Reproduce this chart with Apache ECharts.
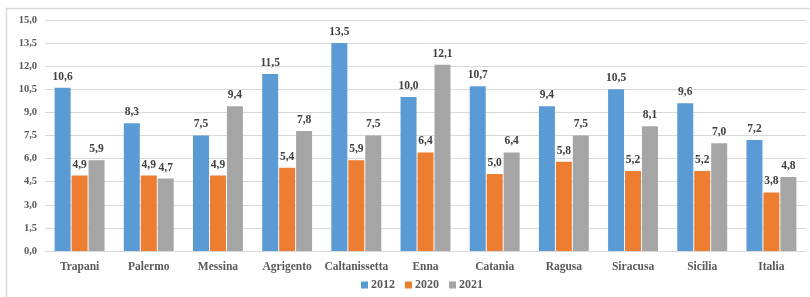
<!DOCTYPE html>
<html>
<head>
<meta charset="utf-8">
<script src="https://cdn.jsdelivr.net/npm/echarts@6/dist/echarts.min.js"></script>
<style>
  body { margin: 0; padding: 0; background: #fff; }
  #chart { width: 810px; height: 297px; }
</style>
</head>
<body>
<div id="chart"></div>
<script>
// categories and values
const places = ['Trapani', 'Palermo', 'Messina', 'Agrigento', 'Caltanissetta', 'Enna', 'Catania', 'Ragusa', 'Siracusa', 'Sicilia', 'Italia']
const years = ['2012', '2020', '2021']
const v2012 = [10.6, 8.3, 7.5, 11.5, 13.5, 10.0, 10.7, 9.4, 10.5, 9.6, 7.2]
const v2020 = [4.9, 4.9, 4.9, 5.4, 5.9, 6.4, 5.0, 5.8, 5.2, 5.2, 3.8]
const v2021 = [5.9, 4.7, 9.4, 7.8, 7.5, 12.1, 6.4, 7.5, 8.1, 7.0, 4.8]
const colors = ['#5B9BD5', '#ED7D31', '#A5A5A5']

const font = 'Liberation Serif'
const comma = v => Number(v).toFixed(1).replace('.', ',')

const chart = echarts.init(document.getElementById('chart'))

const makeSeries = (name, data, i) => ({
  name: name,
  type: 'bar',
  data: data,
  barWidth: 16,
  barGap: '6%',
  itemStyle: { color: colors[i] },
  label: {
    show: true,
    position: 'top',
    distance: 5,
    color: '#404040',
    fontFamily: font,
    fontWeight: 'bold',
    fontSize: 11.5,
    formatter: p => comma(p.value)
  }
})

chart.setOption({
  animation: false,
  backgroundColor: '#fff',
  color: colors,
  graphic: [{
    type: 'rect',
    shape: { x: 6.5, y: 8.5, width: 840, height: 320 },
    style: { fill: 'none', stroke: '#d9d9d9', lineWidth: 1.5 },
    silent: true
  }],
  grid: { left: 45, right: 4, top: 20, bottom: 46 },
  legend: {
    bottom: 1,
    left: 356,
    itemWidth: 7,
    itemHeight: 7,
    itemGap: 10,
    icon: 'rect',
    textStyle: { color: '#595959', fontFamily: font, fontWeight: 'bold', fontSize: 12, padding: [0, 0, 0, -2] },
    data: years
  },
  xAxis: {
    type: 'category',
    data: places,
    axisTick: { show: false },
    axisLine: { lineStyle: { color: '#d9d9d9', width: 1 } },
    axisLabel: { interval: 0, color: '#595959', fontFamily: font, fontWeight: 'bold', fontSize: 11.5, margin: 10 }
  },
  yAxis: {
    type: 'value',
    min: 0,
    max: 15,
    interval: 1.5,
    axisLine: { show: false },
    axisTick: { show: false },
    splitLine: { lineStyle: { color: '#d9d9d9', width: 1 } },
    axisLabel: { color: '#595959', fontFamily: font, fontWeight: 'bold', fontSize: 10.5, margin: 8, formatter: comma }
  },
  series: [
    makeSeries(years[0], v2012, 0),
    makeSeries(years[1], v2020, 1),
    makeSeries(years[2], v2021, 2)
  ]
})
</script>
</body>
</html>
